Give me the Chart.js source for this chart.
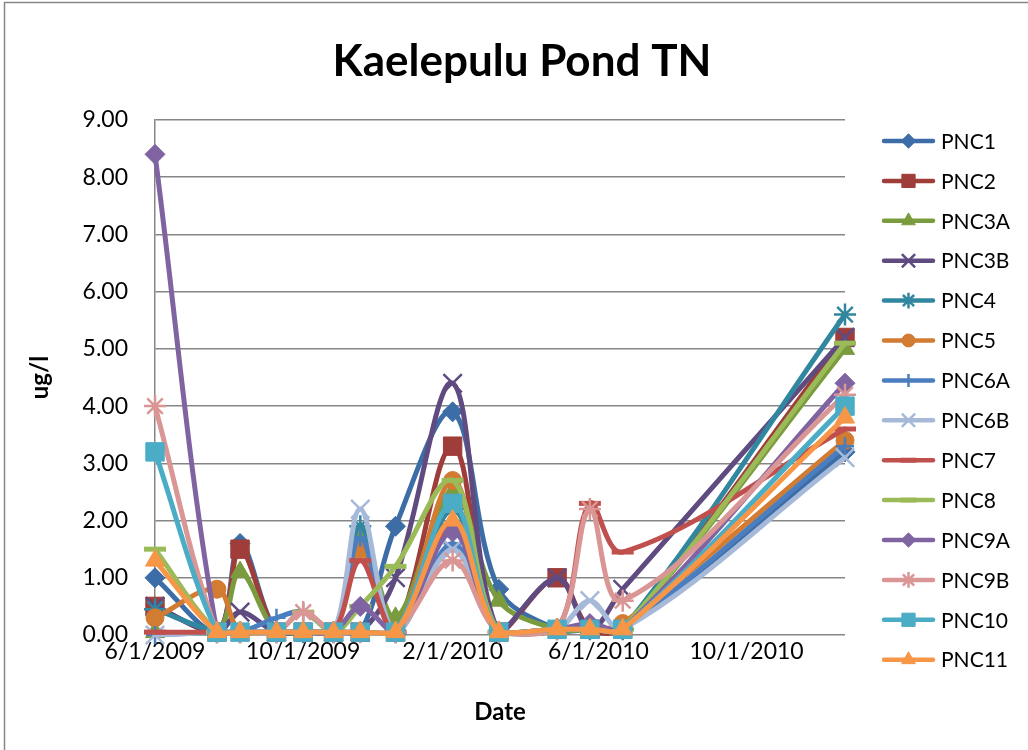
<!DOCTYPE html>
<html>
<head>
<meta charset="utf-8">
<title>Kaelepulu Pond TN</title>
<script src="https://cdn.jsdelivr.net/npm/chart.js@4/dist/chart.umd.min.js"></script>
<style>
  html, body { margin: 0; padding: 0; background: #fff; }
  #wrap { position: relative; width: 1028px; height: 750px; }
</style>
</head>
<body>
<div id="wrap"><canvas id="chart" width="1028" height="750"></canvas></div>
<script>
// ─── data ────────────────────────────────────────────────────────
const chartTitle = 'Kaelepulu Pond TN';
const sampleDates = ['6/1/2009', '7/22/2009', '8/10/2009', '9/9/2009', '10/1/2009', '10/26/2009', '11/17/2009',
  '12/16/2009', '2/1/2010', '3/11/2010', '4/28/2010', '5/25/2010', '6/21/2010', '12/21/2010'];
const tickDates = ['6/1/2009', '10/1/2009', '2/1/2010', '6/1/2010', '10/1/2010'];

const seriesNames = ['PNC1', 'PNC2', 'PNC3A', 'PNC3B', 'PNC4', 'PNC5', 'PNC6A', 'PNC6B',
  'PNC7', 'PNC8', 'PNC9A', 'PNC9B', 'PNC10', 'PNC11'];

const pnc1  = [1.0, 0.05, 1.6, 0.05, 0.05, 0.05, 0.05, 1.9, 3.9, 0.8, 0.1, 0.1, 0.1, 3.2];
const pnc2  = [0.5, 0.05, 1.5, 0.05, 0.05, 0.05, 0.05, 0.05, 3.3, 0.05, 1.0, 0.1, 0.1, 5.2];
const pnc3a = [0.05, 0.05, 1.1, 0.05, 0.05, 0.05, 1.8, 0.3, 2.5, 0.6, 0.1, 0.1, 0.1, 5.0];
const pnc3b = [0.5, 0.05, 0.4, 0.05, 0.05, 0.05, 0.05, 1.0, 4.4, 0.05, 1.0, 0.1, 0.8, 5.2];
const pnc4  = [0.45, 0.05, 0.05, 0.05, 0.05, 0.05, 1.9, 0.05, 2.2, 0.05, 0.1, 0.1, 0.1, 5.6];
const pnc5  = [0.3, 0.8, 0.05, 0.05, 0.05, 0.05, 1.5, 0.05, 2.7, 0.05, 0.1, 0.1, 0.2, 3.4];
const pnc6a = [0.0, 0.05, 0.05, 0.3, 0.4, 0.05, 1.7, 0.05, 1.6, 0.05, 0.1, 0.1, 0.1, 3.3];
const pnc6b = [0.0, 0.05, 0.05, 0.05, 0.05, 0.05, 2.2, 0.05, 1.5, 0.05, 0.1, 0.6, 0.1, 3.1];
const pnc7  = [0.05, 0.05, 0.05, 0.05, 0.05, 0.05, 1.3, 0.05, 1.9, 0.05, 0.1, 2.3, 1.45, 3.6];
const pnc8  = [1.5, 0.05, 0.05, 0.05, 0.4, 0.05, 0.5, 1.2, 2.7, 0.05, 0.1, 0.1, 0.1, 5.1];
const pnc9a = [8.4, 0.05, 0.05, 0.05, 0.05, 0.05, 0.5, 0.05, 1.8, 0.05, 0.1, 0.2, 0.1, 4.4];
const pnc9b = [4.0, 0.05, 0.05, 0.05, 0.4, 0.05, 0.05, 0.05, 1.3, 0.05, 0.1, 2.2, 0.6, 4.2];
const pnc10 = [3.2, 0.05, 0.05, 0.05, 0.05, 0.05, 0.05, 0.05, 2.3, 0.05, 0.1, 0.1, 0.1, 4.0];
const pnc11 = [1.3, 0.05, 0.05, 0.05, 0.05, 0.05, 0.05, 0.05, 2.0, 0.05, 0.1, 0.1, 0.1, 3.8];

const seriesValues = [pnc1, pnc2, pnc3a, pnc3b, pnc4, pnc5, pnc6a, pnc6b, pnc7, pnc8, pnc9a, pnc9b, pnc10, pnc11];

// ─── styles (Excel 2007 look) ────────────────────────────────────
const seriesStyles = [
  { color: '#3D6DA6', marker: 'rectRot',  r: 10, bw: 1 },
  { color: '#9E3D3A', marker: 'rect',     r: 13, bw: 1 },
  { color: '#7B9C3E', marker: 'triangle', r: 11, bw: 1 },
  { color: '#5F4B80', marker: 'crossRot', r: 13, bw: 2.5 },
  { color: '#31879F', marker: 'star',     r: 11, bw: 2.5 },
  { color: '#D27B32', marker: 'circle',   r: 9,  bw: 1 },
  { color: '#4A7EBF', marker: 'cross',    r: 9,  bw: 2.5 },
  { color: '#A6B9D9', marker: 'crossRot', r: 13, bw: 2.5 },
  { color: '#C0504D', marker: 'line',     r: 11, bw: 5 },
  { color: '#9BBB59', marker: 'line',     r: 11, bw: 5 },
  { color: '#8064A2', marker: 'rectRot',  r: 10, bw: 1 },
  { color: '#D99694', marker: 'star',     r: 11, bw: 2.5 },
  { color: '#4BACC6', marker: 'rect',     r: 13, bw: 1 },
  { color: '#F79646', marker: 'triangle', r: 11, bw: 1 }
];

const FONT = 'Lato';
const GRID = '#868686';

function dayNum(s) {
  const [m, d, y] = s.split('/').map(Number);
  return Date.UTC(y, m - 1, d) / 86400000;
}
const sampleDays = sampleDates.map(dayNum);
const tickDays = tickDates.map(dayNum);

const datasets = seriesNames.map((name, i) => {
  const st = seriesStyles[i];
  return {
    label: name,
    data: seriesValues[i].map((v, k) => ({ x: sampleDays[k], y: v })),
    borderColor: st.color,
    backgroundColor: st.color,
    borderWidth: 5,
    borderCapStyle: 'round',
    borderJoinStyle: 'round',
    tension: 0.35,
    pointStyle: st.marker,
    pointRadius: st.r,
    pointHoverRadius: st.r,
    pointBorderWidth: st.bw,
    pointBackgroundColor: st.color,
    pointBorderColor: st.color,
    clip: false,
    order: seriesNames.length - i   // later series drawn on top, as in Excel
  };
});

// title, legend and chart-area border drawn by hand
const decorations = {
  id: 'decorations',
  afterDraw(chart) {
    const ctx = chart.ctx;
    ctx.save();
    ctx.strokeStyle = GRID;
    ctx.lineWidth = 1.5;
    ctx.beginPath();
    ctx.moveTo(4.5, 750);
    ctx.lineTo(4.5, 2.5);
    ctx.lineTo(1028, 2.5);
    ctx.stroke();

    ctx.fillStyle = '#000';
    ctx.font = `bold 44px ${FONT}`;
    ctx.textAlign = 'center';
    ctx.textBaseline = 'middle';
    ctx.fillText(chartTitle, 522, 62);

    chart.data.datasets.forEach((ds, i) => {
      const y = 141 + i * 39.9;
      ctx.strokeStyle = ds.borderColor;
      ctx.lineWidth = 4.5;
      ctx.lineCap = 'round';
      ctx.beginPath();
      ctx.moveTo(884, y);
      ctx.lineTo(933, y);
      ctx.stroke();
      ctx.lineCap = 'butt';
      ctx.fillStyle = ds.borderColor;
      ctx.lineWidth = ds.pointBorderWidth;
      Chart.helpers.drawPoint(ctx, {
        pointStyle: ds.pointStyle,
        radius: ds.pointRadius * 0.72,
        rotation: 0,
        borderWidth: ds.pointBorderWidth
      }, 908.5, y);
      ctx.fillStyle = '#000';
      ctx.font = `21px ${FONT}`;
      ctx.textAlign = 'left';
      ctx.textBaseline = 'middle';
      ctx.fillText(ds.label, 941, y + 1);
    });
    ctx.restore();
  }
};

new Chart(document.getElementById('chart'), {
  type: 'line',
  data: { datasets },
  options: {
    responsive: false,
    animation: false,
    devicePixelRatio: 1,
    layout: { padding: { top: 120, right: 183, bottom: 10, left: 10 } },
    plugins: {
      legend: { display: false },
      title: { display: false },
      tooltip: { enabled: false }
    },
    scales: {
      x: {
        type: 'linear',
        min: sampleDays[0],
        max: sampleDays[sampleDays.length - 1],
        afterBuildTicks(scale) { scale.ticks = tickDays.map(v => ({ value: v })); },
        afterFit(scale) { scale.height = 105; },
        ticks: {
          autoSkip: false,
          maxRotation: 0,
          padding: 3,
          color: '#000',
          font: { family: FONT, size: 23 },
          callback: (v, i) => tickDates[i]
        },
        grid: { display: false, drawTicks: false },
        border: { display: false },
        title: {
          display: true,
          text: 'Date',
          color: '#000',
          font: { family: FONT, size: 24, weight: 'bold' },
          padding: { top: 0, bottom: 13 }
        }
      },
      y: {
        min: 0,
        max: 9,
        afterFit(scale) { scale.width = 145; },
        ticks: {
          stepSize: 1,
          padding: 27,
          color: '#000',
          font: { family: FONT, size: 23 },
          callback: v => Number(v).toFixed(2)
        },
        grid: { color: GRID, lineWidth: 1.5, drawTicks: false },
        border: { color: GRID, width: 1.5 },
        title: {
          display: true,
          text: 'ug/l',
          color: '#000',
          font: { family: FONT, size: 24, weight: 'bold' },
          padding: { top: 16, bottom: 0 }
        }
      }
    }
  },
  plugins: [decorations]
});
</script>
</body>
</html>
